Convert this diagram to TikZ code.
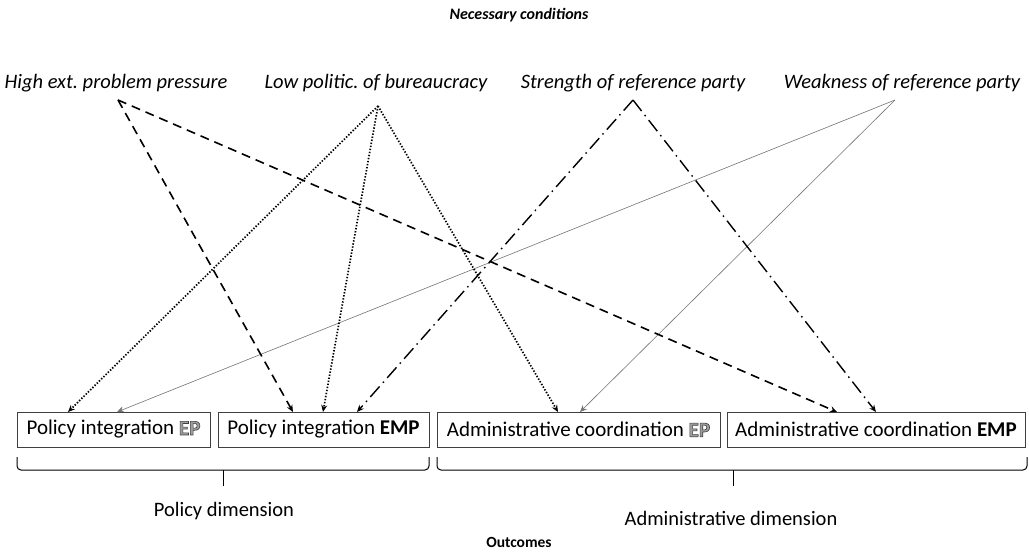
\documentclass[tikz,border=0pt]{standalone}
\usepackage{fontspec}
\setmainfont{Carlito}
\usetikzlibrary{arrows.meta}
\frenchspacing
\begin{document}
\begin{tikzpicture}[x=1pt,y=-1pt,
  lbl/.style={font=\fontsize{20.5}{22}\selectfont\itshape, inner sep=0pt},
  outbox/.style={draw=black!75, line width=0.8pt, minimum height=35pt, inner sep=0pt,
                 font=\fontsize{21}{23}\selectfont},
  dimtext/.style={font=\fontsize{20.5}{22}\selectfont, inner sep=0pt},
  tip/.style={-{Stealth[length=7pt,width=6pt]}},
  pressure/.style={tip, line width=1.6pt, dash pattern=on 9pt off 6pt},
  politic/.style={tip, line width=1.7pt, dash pattern=on 1.4pt off 1.7pt},
  strength/.style={tip, line width=1.4pt, dash pattern=on 14pt off 5pt on 1.5pt off 5pt},
  weakness/.style={tip, line width=0.6pt, draw=black!55},
  bracket/.style={line width=1pt, rounded corners=4pt}]
\useasboundingbox (0,0) rectangle (1029,552);
% outlined grey "EP": fill and stroke the glyphs
\newcommand{\grayEP}{\special{pdf:code q 2 Tr 0.6 w 0.25 0.25 0.25 RG 0.62 0.62 0.62 rg}\textbf{EP}\special{pdf:code Q}}

% headings
\node[font=\fontsize{16}{18}\selectfont\bfseries\itshape, inner sep=0pt] (title) at (519,15) {Necessary conditions};
\node[font=\fontsize{15.5}{18}\selectfont\bfseries, inner sep=0pt] (outc) at (519,542) {Outcomes};

% necessary conditions
\node[lbl] (high) at (116,83) {High ext. problem pressure};
\node[lbl] (low)  at (376,83) {Low politic. of bureaucracy};
\node[lbl] (str)  at (633,83) {Strength of reference party};
\node[lbl] (weak) at (902,83) {Weakness of reference party};

\coordinate (highp) at (118,100);
\coordinate (lowp)  at (378,106);
\coordinate (strp)  at (633,100);
\coordinate (weakp) at (895,100);

% outcome boxes
\node[outbox, minimum width=193pt] (b1) at (113.5,429.5) {Policy integration \grayEP};
\node[outbox, minimum width=211pt] (b2) at (323.5,429.5) {Policy integration \textbf{EMP}};
\node[outbox, minimum width=283pt] (b3) at (578.5,429.5) {Administrative coordination \grayEP};
\node[outbox, minimum width=298pt] (b4) at (876,429.5) {Administrative coordination \textbf{EMP}};

\coordinate (b1a) at (68,412);
\coordinate (b1b) at (117,412);
\coordinate (b2a) at (293,412);
\coordinate (b2b) at (323,412);
\coordinate (b2c) at (357,412);
\coordinate (b3a) at (558,412);
\coordinate (b3b) at (580,412);
\coordinate (b4a) at (837,412);
\coordinate (b4b) at (876,412);

% connectors
\draw[weakness] (weakp) -- (b1b);
\draw[weakness] (weakp) -- (b3b);
\draw[pressure] (highp) -- (b2a);
\draw[pressure] (highp) -- (b4a);
\draw[politic] (lowp) -- (b1a);
\draw[politic] (lowp) -- (b2b);
\draw[politic] (lowp) -- (b3a);
\draw[strength] (strp) -- (b2c);
\draw[strength] (strp) -- (b4b);

% dimension brackets
\draw[bracket] (17,457) -- (17,470) -- (429,470) -- (429,457);
\draw[line width=1pt] (223,470) -- (223,486);
\draw[bracket] (437,457) -- (437,470) -- (1027,470) -- (1027,457);
\draw[line width=1pt] (733,470) -- (733,486);

\node[dimtext] (poldim) at (224,511) {Policy dimension};
\node[dimtext] (admdim) at (731,518) {Administrative dimension};
\end{tikzpicture}
\end{document}
